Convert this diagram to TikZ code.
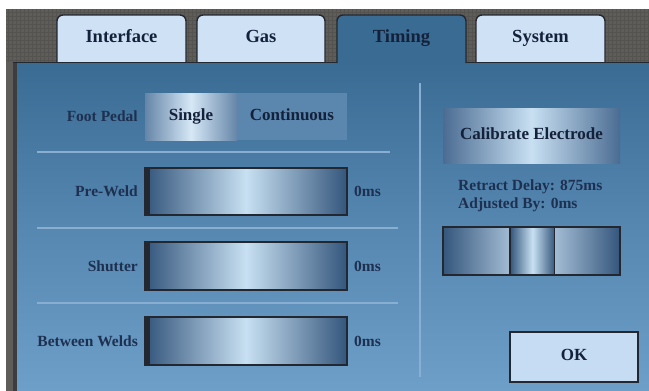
\documentclass[tikz,border=0pt]{standalone}
\usepackage{fontspec}
\setmainfont{Liberation Serif}
\usepackage{tikz}
\usepackage{xcolor}
\usetikzlibrary{positioning}
\definecolor{OuterGray}{HTML}{5F5D59}
\definecolor{GridGray}{HTML}{555350}
\definecolor{EdgeDark}{HTML}{232830}
\definecolor{EdgeGray}{HTML}{3D3D3D}
\definecolor{TabLight}{HTML}{CFE2F5}
\definecolor{PanelTop}{HTML}{3A6B93}
\definecolor{PanelMid}{HTML}{5587B1}
\definecolor{PanelLow}{HTML}{6E9FC8}
\definecolor{InkNavy}{HTML}{14213A}
\definecolor{LabelInk}{HTML}{1E3050}
\definecolor{SteelDark}{HTML}{34567C}
\definecolor{SteelLight}{HTML}{C8E0F2}
\definecolor{SteelPale}{HTML}{A3BCD4}
\definecolor{SegEdge}{HTML}{6585A8}
\definecolor{SegLight}{HTML}{D6E8F6}
\definecolor{SegFlat}{HTML}{5B86AD}
\definecolor{CalEdge}{HTML}{4B6C92}
\definecolor{RuleLight}{HTML}{88AFD2}
\definecolor{OkFill}{HTML}{C6DCF3}

\begin{document}
\begin{tikzpicture}[x=1pt, y=-1pt,
    tab/.style={fill=TabLight, draw=EdgeDark, line width=1.4pt, rounded corners=6pt},
    tabtext/.style={font=\fontsize{18.5}{21}\selectfont\bfseries, text=InkNavy,
                    text height=12pt, text depth=4pt},
    btntext/.style={font=\fontsize{17}{20}\selectfont\bfseries, text=InkNavy,
                    text height=11.5pt, text depth=4pt},
    lbl/.style={font=\fontsize{15.5}{18}\selectfont\bfseries, text=LabelInk, inner sep=1pt},
    box/.style={inner sep=0pt, outer sep=0pt, anchor=north west},
    metal/.style={left color=SteelDark, right color=SteelDark, middle color=SteelLight},
    slidebar/.style={box, metal, draw=EdgeDark, line width=1.3pt,
                     minimum width=202pt, minimum height=47pt},
    rule/.style={draw=RuleLight, line width=1.5pt}]
\useasboundingbox (0,0) rectangle (649,391);
% backdrop
\fill[white] (0,0) rectangle (649,391);
\fill[OuterGray] (6,9) rectangle (649,391);
\draw[GridGray, line width=0.4pt, step=4pt] (6,9) grid (649,62);
% light tabs
\draw[tab] (57,66) -- (57,15) -- (186,15) -- (186,66);
\draw[tab] (197,66) -- (197,15) -- (325,15) -- (325,66);
\draw[tab] (476,66) -- (476,15) -- (605,15) -- (605,66);
% panel
\fill[top color=PanelTop, bottom color=PanelLow, middle color=PanelMid] (13,62) rectangle (649,391);
\fill[EdgeGray] (13,62) rectangle (17,391);
\draw[EdgeDark, line width=1.5pt] (13,62.5) -- (337,62.5) (466,62.5) -- (649,62.5);
% active tab
\draw[fill=PanelTop, draw=EdgeDark, line width=1.4pt, rounded corners=6pt]
    (337,63) -- (337,15) -- (466,15) -- (466,63);
\node[tabtext] (tabinterface) at (121.5,38) {Interface};
\node[tabtext] (tabgas) at (261,38) {Gas};
\node[tabtext] (tabtiming) at (401.5,38) {Timing};
\node[tabtext] (tabsystem) at (540.5,38) {System};

% foot pedal switch
\node[box, btntext, left color=SegEdge, right color=SegEdge, middle color=SegLight,
      minimum width=92pt, minimum height=47pt] (single) at (145,93) {Single};
\node[box, btntext, fill=SegFlat, minimum width=110pt, minimum height=47pt,
      right=0pt of single] (continuous) {Continuous};
\node[lbl, left=6pt of single] (pedallbl) {Foot Pedal};
\draw[rule] (37,152) -- (390,152);

% timing sliders
\node[slidebar] (preweld) at (145,168) {};
\fill[EdgeDark] (preweld.north west) rectangle ([xshift=5pt]preweld.south west);
\node[lbl, left=6pt of preweld] (preweldlbl) {Pre-Weld};
\node[lbl, right=6pt of preweld] (preweldval) {0ms};
\draw[rule] (37,228) -- (398,228);

\node[slidebar, minimum height=48pt] (shutter) at (145,242) {};
\fill[EdgeDark] (shutter.north west) rectangle ([xshift=5pt]shutter.south west);
\node[lbl, left=6pt of shutter] (shutterlbl) {Shutter};
\node[lbl, right=6pt of shutter] (shutterval) {0ms};
\draw[rule] (37,303) -- (398,303);

\node[slidebar, minimum height=48pt] (between) at (145,317) {};
\fill[EdgeDark] (between.north west) rectangle ([xshift=5pt]between.south west);
\node[lbl, left=6pt of between] (betweenlbl) {Between Welds};
\node[lbl, right=6pt of between] (betweenval) {0ms};

% electrode side
\draw[rule] (420,83) -- (420,377);
\node[box, btntext, left color=CalEdge, right color=CalEdge, middle color=SteelLight,
      minimum width=177pt, minimum height=55pt] (calibrate) at (443,108) {Calibrate Electrode};
\node[lbl, align=left, anchor=west] (delayinfo) at (457,196) {Retract Delay: 875ms\\Adjusted By: 0ms};
\node[box, left color=SteelDark, right color=SteelPale,
      minimum width=67pt, minimum height=48pt] (trackleft) at (443,227) {};
\node[box, metal, draw=EdgeDark, line width=1.2pt, minimum width=45pt, minimum height=48pt,
      right=0pt of trackleft] (thumb) {};
\node[box, left color=SteelPale, right color=SteelDark, minimum width=65pt, minimum height=48pt,
      right=0pt of thumb] (trackright) {};
\draw[EdgeDark, line width=1.3pt] (trackleft.north west) rectangle (trackright.south east);
\node[box, btntext, fill=OkFill, draw=EdgeDark, line width=1.5pt,
      minimum width=128pt, minimum height=50pt] (okbtn) at (510,332) {OK};
\end{tikzpicture}
\end{document}
